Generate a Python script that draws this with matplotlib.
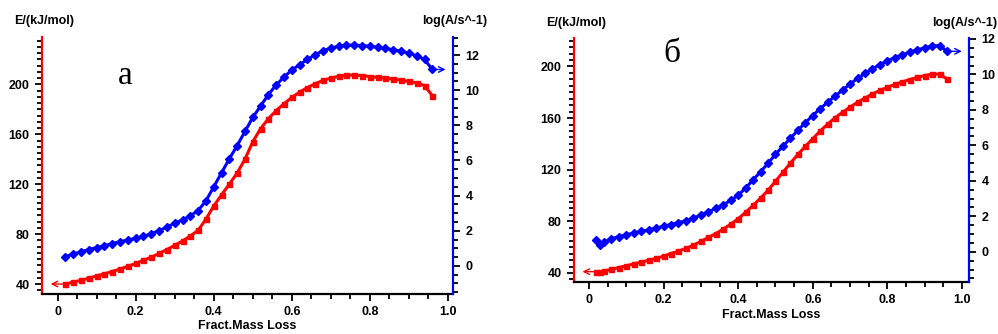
import matplotlib.pyplot as plt
from matplotlib.ticker import MultipleLocator

# fraction of mass loss (x) and the two kinetic parameters
frac_a = [0.02, 0.04, 0.06, 0.08, 0.10, 0.12, 0.14, 0.16, 0.18, 0.20, 0.22, 0.24,
          0.26, 0.28, 0.30, 0.32, 0.34, 0.36, 0.38, 0.40, 0.42, 0.44, 0.46, 0.48,
          0.50, 0.52, 0.54, 0.56, 0.58, 0.60, 0.62, 0.64, 0.66, 0.68, 0.70, 0.72,
          0.74, 0.76, 0.78, 0.80, 0.82, 0.84, 0.86, 0.88, 0.90, 0.92, 0.94, 0.96]
E_a = [40.0, 41.5, 43.0, 44.6, 46.5, 48.2, 50.0, 52.0, 54.2, 56.5, 59.0, 61.5,
       64.5, 67.6, 71.0, 74.5, 78.5, 83.0, 92.0, 102.5, 111.5, 120.0, 129.0, 140.0,
       154.0, 164.5, 172.5, 179.0, 184.5, 189.5, 193.8, 197.5, 200.5, 203.2, 205.0, 206.5,
       207.3, 207.5, 207.0, 206.3, 205.6, 205.0, 204.2, 203.3, 202.4, 201.2, 199.0, 191.0]
logA_a = [0.52, 0.68, 0.80, 0.93, 1.04, 1.15, 1.27, 1.38, 1.47, 1.57, 1.68, 1.83,
          2.00, 2.22, 2.42, 2.62, 2.85, 3.15, 3.70, 4.50, 5.30, 6.10, 6.85, 7.65,
          8.45, 9.10, 9.75, 10.30, 10.75, 11.15, 11.45, 11.75, 12.02, 12.25, 12.40, 12.50,
          12.56, 12.57, 12.54, 12.50, 12.45, 12.38, 12.30, 12.22, 12.10, 11.96, 11.75, 11.18]

frac_b = [0.02, 0.03, 0.04, 0.06, 0.08, 0.10, 0.12, 0.14, 0.16, 0.18, 0.20, 0.22, 0.24,
          0.26, 0.28, 0.30, 0.32, 0.34, 0.36, 0.38, 0.40, 0.42, 0.44, 0.46, 0.48,
          0.50, 0.52, 0.54, 0.56, 0.58, 0.60, 0.62, 0.64, 0.66, 0.68, 0.70, 0.72,
          0.74, 0.76, 0.78, 0.80, 0.82, 0.84, 0.86, 0.88, 0.90, 0.92, 0.94, 0.96]
E_b = [41.0, 40.6, 41.5, 42.8, 44.2, 45.6, 47.0, 48.4, 49.8, 51.3, 53.0, 55.0, 57.0,
       59.0, 61.5, 64.5, 67.5, 70.5, 74.0, 77.8, 82.0, 87.0, 92.3, 98.0, 104.0,
       111.0, 118.0, 125.0, 131.8, 138.0, 144.0, 150.0, 155.3, 160.3, 164.5, 168.5, 172.2,
       175.5, 178.7, 181.4, 183.8, 186.0, 188.0, 189.8, 191.5, 192.9, 194.1, 194.0, 190.2]
logA_b = [0.64, 0.40, 0.55, 0.74, 0.86, 0.96, 1.06, 1.15, 1.24, 1.34, 1.44, 1.54, 1.65,
          1.76, 1.90, 2.08, 2.25, 2.45, 2.65, 2.90, 3.18, 3.60, 4.05, 4.52, 4.98,
          5.50, 5.95, 6.40, 6.85, 7.28, 7.68, 8.07, 8.43, 8.78, 9.12, 9.45, 9.78,
          10.05, 10.32, 10.55, 10.76, 10.95, 11.11, 11.25, 11.38, 11.50, 11.61, 11.62, 11.30]

x_ticks = [0, 0.2, 0.4, 0.6, 0.8, 1.0]
x_ticklabels = ['0', '0.2', '0.4', '0.6', '0.8', '1.0']

plt.rcParams['font.family'] = ['Liberation Sans', 'DejaVu Sans']
plt.rcParams['font.weight'] = 'bold'

fig = plt.figure(figsize=(9.98, 3.34), dpi=100)


def panel(rect, frac, E, logA, xlim, elim, alim, letter, letter_pos, title_pos, xlabel_y):
    ax = fig.add_axes(rect)
    ax2 = ax.twinx()
    ax.plot(frac, E, color='red', marker='s', ms=3.6, lw=2.2)
    ax2.plot(frac, logA, color='blue', marker='D', ms=3.6, lw=2.2)
    ax.set_xlim(*xlim)
    ax.set_ylim(*elim)
    ax2.set_ylim(*alim)

    ax.set_xticks(x_ticks)
    ax.set_xticklabels(x_ticklabels)
    ax.xaxis.set_minor_locator(MultipleLocator(0.05))
    ax.yaxis.set_major_locator(MultipleLocator(40))
    ax.yaxis.set_minor_locator(MultipleLocator(5))
    ax2.yaxis.set_major_locator(MultipleLocator(2))
    ax2.yaxis.set_minor_locator(MultipleLocator(0.5))

    for a in (ax, ax2):
        a.tick_params(which='major', length=5, width=1.3, labelsize=9, direction='out', pad=4)
        a.tick_params(which='minor', length=3.5, width=1.3, direction='out')
        a.spines['top'].set_visible(False)
    ax.spines['right'].set_visible(False)
    ax2.spines['left'].set_visible(False)
    ax2.spines['bottom'].set_visible(False)
    ax.spines['left'].set_color('red')
    ax.spines['left'].set_linewidth(1.6)
    ax2.spines['right'].set_color('blue')
    ax2.spines['right'].set_linewidth(1.6)
    ax.spines['bottom'].set_linewidth(1.6)
    ax.patch.set_visible(False)

    # arrows showing which axis each curve belongs to
    ax.annotate('', xy=(xlim[0] + 0.015, E[0]), xytext=(frac[0], E[0]),
                arrowprops=dict(arrowstyle='->', color='red', lw=1))
    ax2.annotate('', xy=(xlim[1] - 0.012, logA[-1]), xytext=(frac[-1], logA[-1]),
                 arrowprops=dict(arrowstyle='->', color='blue', lw=1))

    ax.text(letter_pos[0], letter_pos[1], letter, transform=fig.transFigure,
            family='Liberation Serif', fontweight='normal', fontsize=24,
            ha='center', va='center')
    fig.text(title_pos[0], title_pos[1], 'E/(kJ/mol)', fontsize=9, fontweight='bold',
             ha='left', va='center')
    fig.text(title_pos[2], title_pos[1], 'log(A/s^-1)', fontsize=9, fontweight='bold',
             ha='right', va='center')
    fig.text(rect[0] + rect[2] / 2, xlabel_y, 'Fract.Mass Loss', fontsize=9,
             fontweight='bold', ha='center', va='center')


panel([0.0421, 0.1198, 0.4118, 0.7695], frac_a, E_a, logA_a,
      (-0.04, 1.013), (32, 238), (-1.6, 13.03),
      'a', (125 / 998, 1 - 76 / 334), (14 / 998, 1 - 21 / 334, 487 / 998), 1 - 326 / 334)
panel([0.5752, 0.1557, 0.3958, 0.7305], frac_b, E_b, logA_b,
      (-0.04, 1.019), (33, 222), (-1.7, 12.05),
      'б', (672 / 998, 1 - 54 / 334), (546 / 998, 1 - 23 / 334, 997 / 998), 1 - 315 / 334)

fig.savefig('out.png', dpi=100)
